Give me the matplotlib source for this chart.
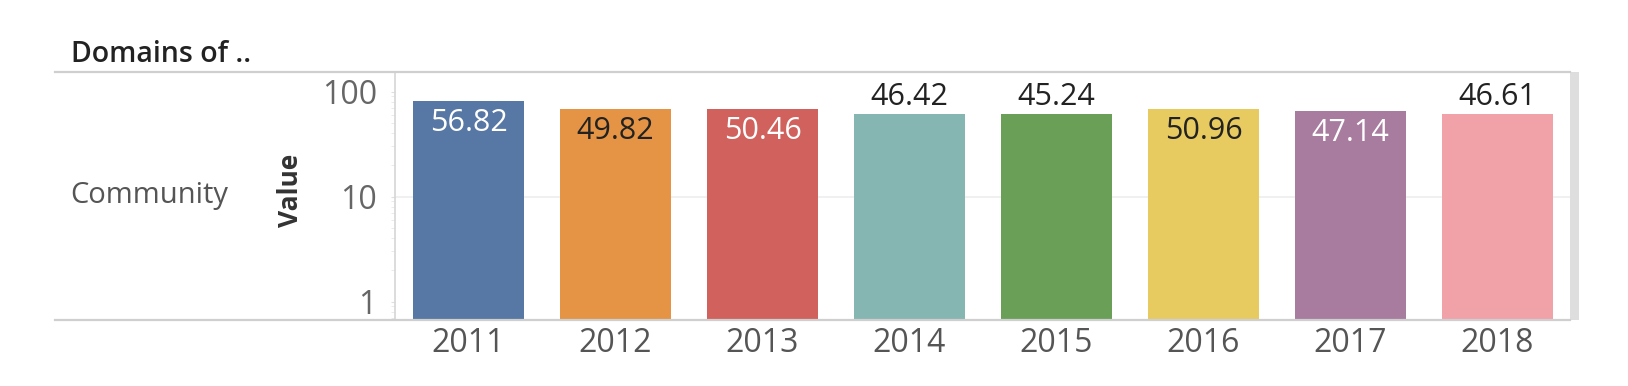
import matplotlib
matplotlib.use('Agg')
import matplotlib.pyplot as plt
from matplotlib.lines import Line2D
from matplotlib.patches import Rectangle
from matplotlib.ticker import LogLocator, NullFormatter

plt.rcParams['font.family'] = ['Open Sans', 'DejaVu Sans']

# data
years = ['2011', '2012', '2013', '2014', '2015', '2016', '2017', '2018']
bar_heights = [80.5, 68.6, 68.6, 61.4, 61.4, 68.6, 64.6, 61.4]
value_labels = ['56.82', '49.82', '50.46', '46.42', '45.24', '50.96', '47.14', '46.61']
label_inside = [True, True, True, False, False, True, True, False]
label_colors = ['white', '#222222', 'white', '#222222', '#222222', '#222222', 'white', '#222222']
bar_colors = ['#5778a4', '#e49444', '#d1615d', '#85b6b2',
              '#6a9f58', '#e7ca60', '#a87c9f', '#f1a2a9']

W, H = 1628, 386
fig = plt.figure(figsize=(W / 100, H / 100), dpi=100)

# plot area in pixel terms
left, right, top, bottom = 395, 1571, 72, 320
ax = fig.add_axes([left / W, (H - bottom) / H, (right - left) / W, (bottom - top) / H])

x = range(len(years))
bars = ax.bar(x, bar_heights, width=0.75, color=bar_colors, zorder=2)
ax.set_yscale('log')
ax.set_ylim(0.667, 153.5)
ax.set_xlim(-0.5, len(years) - 0.5)

# light gridline at 10
ax.axhline(10, color='#eeeeee', lw=1.2, zorder=1)

for rect, txt, inside, col in zip(bars, value_labels, label_inside, label_colors):
    cx = rect.get_x() + rect.get_width() / 2
    h = rect.get_height()
    off = -22 if inside else 17
    ax.annotate(txt, (cx, h), xytext=(0, off), textcoords='offset pixels',
                ha='center', va='center', fontsize=22, color=col, zorder=3)

ax.set_xticks(list(x))
ax.set_xticklabels(years)
ax.set_yticks([1, 10, 100])
ax.set_yticklabels(['1', '10', '100'])
ax.yaxis.set_minor_locator(LogLocator(base=10, subs=range(2, 10)))
ax.yaxis.set_minor_formatter(NullFormatter())
ax.tick_params(axis='x', length=0, pad=5, labelsize=23, labelcolor='#555555')
ax.tick_params(axis='y', which='major', length=3, color='#e0e0e0', pad=10,
               labelsize=23, labelcolor='#666666')
ax.tick_params(axis='y', which='minor', length=3, color='#e8e8e8')

for s in ['top', 'right', 'bottom']:
    ax.spines[s].set_visible(False)
ax.spines['left'].set_color('#d6d6d6')
ax.spines['left'].set_linewidth(1.2)

# header / frame lines
fig.add_artist(Line2D([55 / W, 1570 / W], [(H - top) / H] * 2,
                      color='#cfcfcf', lw=1.6, transform=fig.transFigure))
fig.add_artist(Line2D([55 / W, 1570 / W], [(H - bottom) / H] * 2,
                      color='#cfcfcf', lw=1.6, transform=fig.transFigure))
fig.add_artist(Rectangle((1570 / W, (H - bottom) / H), 9 / W, (bottom - top) / H,
                         color='#dedede', transform=fig.transFigure, lw=0))

fig.text(71 / W, (H - 55) / H, 'Domains of ..', fontsize=20.5, fontweight='semibold',
         color='#222222', ha='left', va='center')
fig.text(70 / W, (H - 196) / H, 'Community', fontsize=21, color='#555555',
         ha='left', va='center')
fig.text(290 / W, (H - 190) / H, 'Value', fontsize=19, fontweight='bold',
         color='#333333', ha='center', va='center', rotation=90)

fig.savefig('out.png', dpi=100)
